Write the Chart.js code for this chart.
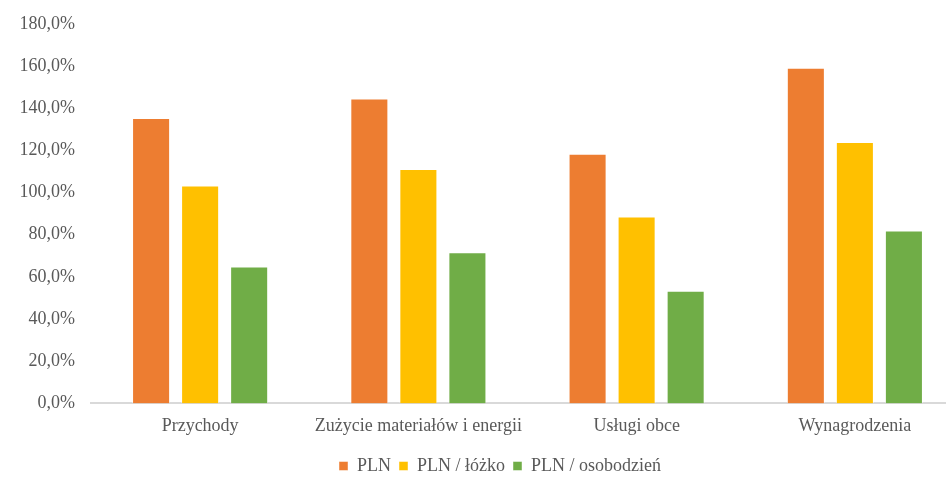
<!DOCTYPE html>
<html>
<head>
<meta charset="utf-8">
<script src="https://cdn.jsdelivr.net/npm/chart.js@4/dist/chart.umd.min.js"></script>
<style>
  html, body { margin: 0; padding: 0; background: #fff; overflow: hidden; }
  #wrap { position: relative; width: 1000px; height: 488px; margin-top: -3px; }
</style>
</head>
<body>
<div id="wrap"><canvas id="chart"></canvas></div>
<script>
const categories = ['Przychody', 'Zużycie materiałów i energii', 'Usługi obce', 'Wynagrodzenia']
const seriesNames = ['PLN', 'PLN / łóżko', 'PLN / osobodzień']
const plnValues = [135.3, 144.6, 118.4, 159.2]
const perBedValues = [103.3, 111.2, 88.6, 124.0]
const perPersonDayValues = [64.9, 71.7, 53.4, 82.0]
const seriesColors = ['#ED7D31', '#FFC000', '#70AD47']

const textColor = '#595959'
const font = { family: 'Liberation Serif', size: 18 }

const datasets = [plnValues, perBedValues, perPersonDayValues].map((data, i) => ({
  label: seriesNames[i],
  data,
  backgroundColor: seriesColors[i],
  borderColor: 'rgba(255,255,255,0.45)',
  borderWidth: 1,
  borderSkipped: 'bottom',
  categoryPercentage: 0.674,
  barPercentage: 0.776
}))

new Chart(document.getElementById('chart'), {
  type: 'bar',
  data: { labels: categories, datasets },
  options: {
    responsive: true,
    maintainAspectRatio: false,
    animation: false,
    layout: { padding: { top: 18, left: 0, right: 0, bottom: 0 } },
    plugins: {
      tooltip: { enabled: false },
      legend: {
        position: 'bottom',
        labels: {
          boxWidth: 9,
          boxHeight: 9,
          padding: 8,
          color: textColor,
          font
        }
      }
    },
    scales: {
      x: {
        grid: { display: false, drawTicks: false },
        border: { display: true, color: '#D9D9D9', width: 2 },
        ticks: { color: textColor, font, padding: 12, maxRotation: 0 }
      },
      y: {
        min: 0,
        max: 180,
        afterFit: scale => { scale.width = 91 },
        grid: { display: false, drawTicks: false },
        border: { display: false },
        ticks: {
          stepSize: 20,
          color: textColor,
          font,
          padding: 16,
          callback: v => v.toFixed(1).replace('.', ',') + '%'
        }
      },
      // empty right-hand spacer so the plot stops short of the canvas edge
      yRight: {
        position: 'right',
        afterFit: scale => { scale.width = 36 },
        grid: { display: false, drawTicks: false },
        border: { display: false },
        ticks: { display: false }
      }
    }
  }
})
</script>
</body>
</html>
